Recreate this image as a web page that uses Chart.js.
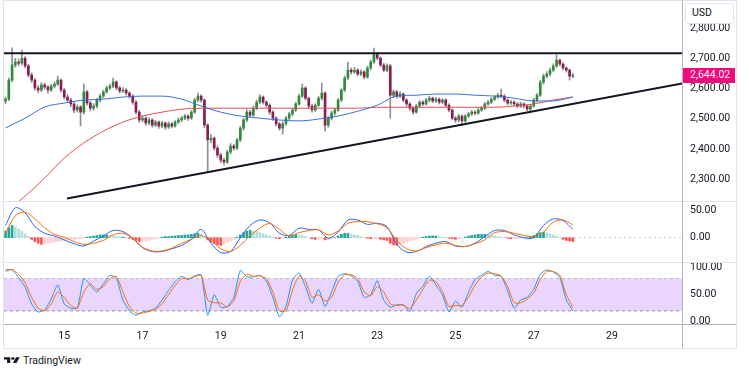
<!DOCTYPE html>
<html>
<head>
<meta charset="utf-8">
<title>Price chart with MACD and Stochastic</title>
<script src="https://cdn.jsdelivr.net/npm/chart.js@4.4.1/dist/chart.umd.min.js"></script>
<style>
  body { margin: 0; background: #fff; }
  #chart { position: relative; width: 749px; height: 375px; overflow: hidden; background: #fff;
           font-family: Roboto, "Liberation Sans", sans-serif; color: #131722; }
  #chart canvas { position: absolute; left: 0; }
  .rule { position: absolute; }
  .light { background: #e0e3eb; }
  .dark { background: #b2b5be; }
  #usd { position: absolute; left: 685px; top: 3px; width: 49px; height: 21px; background: #fff;
         border: 1px solid #e0e3eb; border-radius: 3px; box-sizing: border-box;
         font-size: 10.5px; line-height: 18px; padding-left: 6px; }
  #brand { position: absolute; left: 4px; top: 354px; display: flex; align-items: center; gap: 3px;
           font-size: 10.5px; }
</style>
</head>
<body>
<div id="chart">
  <canvas id="priceCanvas" width="749" height="201" style="top:0"></canvas>
  <canvas id="macdCanvas" width="749" height="61" style="top:201px"></canvas>
  <canvas id="stochCanvas" width="749" height="86" style="top:262px"></canvas>

  <div class="rule light" style="left:3px;top:0;width:734px;height:1px"></div>
  <div class="rule light" style="left:3px;top:0;width:1px;height:349px"></div>
  <div class="rule light" style="left:736px;top:0;width:1px;height:349px"></div>
  <div class="rule light" style="left:3px;top:348px;width:734px;height:1px"></div>
  <div class="rule light" style="left:4px;top:201px;width:732px;height:1px"></div>
  <div class="rule light" style="left:4px;top:262px;width:732px;height:1px"></div>
  <div class="rule dark" style="left:4px;top:324px;width:732px;height:1px"></div>
  <div class="rule dark" style="left:682px;top:0;width:1px;height:348px"></div>

  <div id="usd">USD</div>
  <div id="brand">
    <svg width="16" height="9" viewBox="0 0 36 28" preserveAspectRatio="none">
      <path d="M14 22H7V11H0V4h14v18zM28 22h-8l7.5-18h8L28 22z" fill="#131722"/>
      <circle cx="20" cy="8" r="4" fill="#131722"/>
    </svg>
    <span>TradingView</span>
  </div>
</div>

<script>
// 2-hour candles, first one at day 13.5
const CANDLE_START = 13.5;
const CANDLE_STEP = 2 / 24;

const opens = [2558,2565,2628,2678,2688,2684,2700,2675,2645,2628, 2602,2595,2612,2605,2595,2608,2615,2628,2595,2572,
  2562,2549,2529,2539,2522,2589,2552,2535,2542,2562, 2575,2589,2602,2608,2622,2602,2592,2595,2585,2575,
  2555,2522,2496,2502,2486,2496,2479,2489,2476,2486, 2473,2483,2476,2489,2496,2502,2509,2502,2522,2562,
  2575,2562,2479,2430,2436,2403,2380,2363,2357,2390, 2410,2403,2430,2469,2496,2522,2512,2535,2555,2572,
  2555,2545,2522,2502,2483,2469,2483,2502,2516,2529, 2549,2575,2602,2568,2542,2529,2545,2568,2585,2479,
  2502,2519,2529,2562,2595,2635,2661,2655,2661,2648, 2655,2638,2668,2688,2714,2701,2678,2661,2675,2578,
  2589,2575,2582,2562,2549,2535,2522,2542,2555,2549, 2562,2568,2559,2565,2555,2562,2545,2529,2502,2496,
  2509,2493,2509,2516,2522,2519,2529,2535,2549,2555, 2565,2572,2578,2575,2562,2552,2555,2549,2542,2549,
  2542,2532,2542,2562,2578,2621,2641,2648,2661,2675, 2694,2681,2668,2661,2641];
const highs = [2572,2635,2735,2700,2698,2727,2706,2680,2652,2634, 2610,2620,2618,2611,2614,2622,2641,2632,2600,2580,
  2568,2555,2546,2544,2615,2594,2558,2550,2568,2582, 2595,2608,2615,2635,2626,2608,2603,2600,2590,2580,
  2560,2528,2510,2507,2503,2500,2495,2493,2492,2490, 2490,2488,2494,2503,2508,2515,2514,2528,2568,2585,
  2580,2566,2484,2448,2440,2410,2386,2370,2396,2418, 2416,2436,2475,2502,2530,2528,2542,2562,2580,2576,
  2560,2550,2527,2507,2488,2490,2508,2522,2535,2555, 2582,2615,2606,2572,2548,2550,2574,2618,2590,2508,
  2525,2535,2568,2600,2642,2688,2668,2670,2666,2662, 2660,2674,2694,2734,2720,2705,2684,2682,2680,2596,
  2594,2590,2586,2566,2554,2540,2548,2560,2560,2568, 2575,2572,2571,2569,2567,2566,2550,2533,2508,2515,
  2512,2514,2522,2528,2527,2535,2541,2554,2561,2570, 2578,2584,2598,2580,2566,2561,2560,2553,2555,2553,
  2546,2547,2568,2584,2628,2648,2656,2668,2682,2711, 2698,2686,2672,2665,2650];
const lows = [2550,2560,2622,2670,2675,2678,2668,2638,2620,2595, 2586,2590,2598,2585,2590,2602,2610,2588,2565,2555,
  2540,2520,2522,2476,2515,2545,2526,2528,2536,2556, 2570,2584,2596,2603,2596,2585,2586,2578,2568,2548,
  2515,2488,2490,2478,2480,2472,2474,2468,2470,2465, 2468,2470,2472,2484,2490,2497,2495,2498,2518,2556,
  2555,2470,2324,2420,2396,2372,2355,2347,2352,2384, 2396,2398,2425,2462,2490,2505,2508,2530,2550,2548,
  2538,2515,2495,2476,2462,2449,2478,2497,2510,2524, 2544,2570,2562,2535,2522,2524,2540,2562,2459,2472,
  2496,2512,2524,2556,2590,2630,2648,2650,2642,2643, 2632,2634,2662,2684,2695,2672,2655,2656,2502,2570,
  2568,2570,2556,2542,2528,2515,2518,2538,2543,2545, 2556,2553,2554,2549,2550,2540,2523,2496,2488,2490,
  2476,2488,2504,2511,2513,2514,2524,2530,2544,2550, 2560,2567,2570,2556,2546,2547,2543,2536,2537,2536,
  2526,2519,2538,2556,2574,2615,2635,2642,2655,2670, 2675,2662,2654,2628,2636];
const closes = [2565,2628,2678,2688,2684,2700,2675,2645,2628,2602, 2595,2612,2605,2595,2608,2615,2628,2595,2572,2562,
  2549,2529,2539,2522,2589,2552,2535,2542,2562,2575, 2589,2602,2608,2622,2602,2592,2595,2585,2575,2555,
  2522,2496,2502,2486,2496,2479,2489,2476,2486,2473, 2483,2476,2489,2496,2502,2509,2502,2522,2562,2575,
  2562,2479,2430,2436,2403,2380,2363,2357,2390,2410, 2403,2430,2469,2496,2522,2512,2535,2555,2572,2555,
  2545,2522,2502,2483,2469,2483,2502,2516,2529,2549, 2575,2602,2568,2542,2529,2545,2568,2585,2479,2502,
  2519,2529,2562,2595,2635,2661,2655,2661,2648,2655, 2638,2668,2688,2714,2701,2678,2661,2675,2578,2589,
  2575,2582,2562,2549,2535,2522,2542,2555,2549,2562, 2568,2559,2565,2555,2562,2545,2529,2502,2496,2509,
  2493,2509,2516,2522,2519,2529,2535,2549,2555,2565, 2572,2578,2575,2562,2552,2555,2549,2542,2549,2542,
  2532,2542,2562,2578,2621,2641,2648,2661,2675,2694, 2681,2668,2661,2641,2644.02];

// moving averages, read every 6th candle
const maBlue = [2470,2502,2539,2552,2562,2565,2572,2575,2575,2565, 2542,2522,2509,2502,2496,2493,2499,2509,2525,2545,
  2575,2578,2582,2582,2578,2575,2568,2559,2559,2572];
const maRed = [2190,2244,2304,2370,2420,2459,2489,2509,2522,2532, 2535,2535,2535,2535,2535,2535,2535,2535,2535,2538,
  2538,2538,2538,2538,2538,2538,2542,2549,2562,2572];

// drawn levels
const resistance = 2716.5;
const trendDays = [15.07, 30.79];
const trendPrices = [2236, 2617];

// MACD, lines read every 3rd candle, histogram per candle
const macdLine = [22,54,45,20,8,3,-4,-11,-15,-6, 3,13,11,-1,-18,-25,-25,-20,-14,-3,
  15,-10,-27,-25,0,22,32,27,8,4, 17,15,14,-1,10,32,32,24,26,20,
  -12,-26,-25,-16,-10,-7,-15,-16,-10,2, 13,13,5,0,0,22,34,31,15];
const macdSignal = [8,40,46,34,18,6,1,-7,-12,-10, -5,5,8,-1,-17,-24,-24,-19,-10,-3,
  4,-5,-20,-25,-14,4,17,26,15,3, 9,13,14,5,12,26,29,29,25,18,
  -5,-20,-24,-18,-13,-10,-14,-16,-11,-4, 9,11,8,4,2,10,28,32,23];
const macdHist = [12,18,22,20,16,12,7,2,-3,-7, -10,-12,-11,-10,-9,-8,-7,-6,-5,-4,
  -3,-3,-2,-2,-1,1,2,3,4,5, 5,5,4,3,2,1,1,0,-1,-3,
  -5,-7,-7,-6,-5,-3,-2,-1,1,2, 2,3,3,4,4,5,5,6,7,8,
  6,2,-4,-8,-11,-13,-14,-12,-9,-6, -3,1,5,9,12,13,12,11,9,7,
  5,3,1,-1,-2,-1,1,3,5,6, 5,4,2,0,-2,-3,-3,-2,-4,-3,
  -2,0,3,6,8,8,6,5,4,2, 0,-1,-2,-2,-2,-3,-4,-5,-10,-13,
  -14,-12,-10,-8,-6,-5,-3,-1,1,2, 3,3,3,2,1,0,-1,-2,-3,-2,
  -1,1,3,4,5,6,6,6,5,4, 3,2,1,0,-1,-2,-2,-2,-1,-1,
  0,2,4,7,9,10,9,7,5,3, 0,-3,-5,-6,-7];

// stochastic, read every 2nd candle
const stochK = [96,96,82,64,33,18,22,42,68,33, 25,25,80,68,55,70,86,80,40,20,
  12,18,20,25,40,58,74,84,78,85, 87,12,50,27,28,45,95,83,83,86,
  75,45,9,28,77,90,65,34,60,28, 55,84,89,85,75,45,50,76,40,27,
  31,31,19,52,66,84,68,50,18,38, 27,55,78,86,93,86,84,57,25,40,
  45,60,88,96,92,82,40,20];
const stochD = [93,97,88,72,45,25,20,33,55,45, 30,25,55,70,60,65,80,84,55,28,
  16,16,19,23,33,50,67,80,80,83, 86,40,35,35,27,38,75,88,84,85,
  80,55,20,20,58,85,75,45,50,38, 45,73,87,87,80,55,48,65,55,33,
  30,31,24,40,60,77,74,56,28,30, 30,45,68,83,90,89,85,65,35,35,
  42,53,78,93,93,86,50,26];
const stochBands = [80, 20];

const dayTicks = [15, 17, 19, 21, 23, 25, 27, 29];
const priceTicks = [2300, 2400, 2500, 2600, 2700, 2800];
const macdTicks = [0, 50];
const stochTicks = [0, 50, 100];

const X_MIN = 13.46, X_MAX = 30.79;
const TXT = '#131722';
const FONT_SIZE = 10.5;

Chart.defaults.font.family = 'Roboto, "Liberation Sans", sans-serif';
Chart.defaults.color = TXT;

const candleDays = closes.map((_, i) => CANDLE_START + i * CANDLE_STEP);
const maDays = maBlue.map((_, k) => CANDLE_START + k * 6 * CANDLE_STEP);
const macdDays = macdLine.map((_, k) => CANDLE_START + k * 3 * CANDLE_STEP);
const stochDays = stochK.map((_, k) => CANDLE_START + k * 2 * CANDLE_STEP);

function pts(days, vals) {
  return vals.map((v, i) => ({ x: days[i], y: v }));
}
function fmt2(v) {
  return Number(v).toLocaleString('en-US', { minimumFractionDigits: 2, maximumFractionDigits: 2 });
}
function line(data, color, width, extra) {
  return Object.assign({ type: 'line', data, borderColor: color, borderWidth: width,
    pointRadius: 0, fill: false }, extra || {});
}

function timeAxis(show) {
  return {
    type: 'linear', min: X_MIN, max: X_MAX, offset: false, display: show,
    grid: { display: false, drawTicks: false }, border: { display: false },
    afterBuildTicks: s => { s.ticks = dayTicks.map(v => ({ value: v })); },
    afterFit: s => {
      s.height = show ? 24 : 0;
      s.paddingLeft = 0; s.paddingRight = 0;
    },
    ticks: { autoSkip: false, maxRotation: 0, padding: 6, color: TXT,
      font: { size: FONT_SIZE }, callback: v => String(v) }
  };
}
function valueAxis(min, max, tickList) {
  return {
    type: 'linear', position: 'right', min, max,
    grid: { display: false, drawTicks: false }, border: { display: false },
    afterBuildTicks: s => { s.ticks = tickList.map(v => ({ value: v })); },
    afterFit: s => { s.width = 67; s.paddingTop = 0; s.paddingBottom = 0; },
    ticks: { padding: 8, color: TXT, font: { size: FONT_SIZE }, callback: v => fmt2(v) }
  };
}
function baseOptions(scales) {
  return {
    responsive: false, animation: false, devicePixelRatio: 1, events: [],
    layout: { padding: { left: 4, right: 0, top: 0, bottom: 0 } },
    plugins: { legend: { display: false }, tooltip: { enabled: false } },
    scales
  };
}

// pink tag with the last price on the price axis
const lastPriceTag = {
  id: 'lastPriceTag',
  afterDraw(chart) {
    const last = closes[closes.length - 1];
    const y = chart.scales.y.getPixelForValue(last);
    const x = chart.chartArea.right;
    const ctx = chart.ctx;
    ctx.save();
    ctx.fillStyle = '#f5087e';
    ctx.fillRect(x, Math.round(y) - 7, 53, 15);
    ctx.fillStyle = '#fff';
    ctx.font = FONT_SIZE + 'px Roboto, "Liberation Sans", sans-serif';
    ctx.textBaseline = 'middle';
    ctx.fillText(fmt2(last), x + 8, Math.round(y) + 0.5);
    ctx.restore();
  }
};

const upColor = '#2f8a3a', downColor = '#8c1b4f', wickColor = '#8f9097';
const bodyColors = closes.map((c, i) => c >= opens[i] ? upColor : downColor);

new Chart(document.getElementById('priceCanvas'), {
  type: 'bar',
  data: {
    datasets: [
      line([{ x: X_MIN, y: resistance }, { x: X_MAX, y: resistance }], '#131722', 2, { order: 1 }),
      line(pts(trendDays, trendPrices), '#131722', 2, { order: 1 }),
      line(pts(maDays, maBlue), '#3d6fd6', 1, { order: 2, cubicInterpolationMode: 'monotone' }),
      line(pts(maDays, maRed), '#e0504c', 1, { order: 2, cubicInterpolationMode: 'monotone' }),
      { type: 'bar', order: 3, grouped: false, barThickness: 2,
        data: candleDays.map((d, i) => ({ x: d, y: [opens[i], closes[i]] })),
        backgroundColor: bodyColors },
      { type: 'bar', order: 4, grouped: false, barThickness: 1,
        data: candleDays.map((d, i) => ({ x: d, y: [lows[i], highs[i]] })),
        backgroundColor: wickColor }
    ]
  },
  options: baseOptions({ x: timeAxis(false), y: valueAxis(2228, 2893, priceTicks) }),
  plugins: [lastPriceTag]
});

const histColors = macdHist.map((v, i) => {
  const prev = i ? macdHist[i - 1] : 0;
  if (v >= 0) return v >= prev ? '#26a69a' : '#b2dfdb';
  return v < prev ? '#ff5252' : '#ffcdd2';
});

new Chart(document.getElementById('macdCanvas'), {
  type: 'bar',
  data: {
    datasets: [
      line(pts(macdDays, macdSignal), '#ff6d00', 1, { order: 1, tension: 0.3 }),
      line(pts(macdDays, macdLine), '#2962ff', 1, { order: 2, tension: 0.3 }),
      { type: 'bar', order: 3, grouped: false, barThickness: 2,
        data: pts(candleDays, macdHist), backgroundColor: histColors },
      line([{ x: X_MIN, y: 0 }, { x: X_MAX, y: 0 }], '#c9ccd4', 1, { order: 4, borderDash: [2, 3] })
    ]
  },
  options: baseOptions({ x: timeAxis(false), y: valueAxis(-43.9, 66.2, macdTicks) })
});

new Chart(document.getElementById('stochCanvas'), {
  type: 'line',
  data: {
    datasets: [
      line([{ x: X_MIN, y: stochBands[0] }, { x: X_MAX, y: stochBands[0] }], '#9598a1', 1,
        { order: 6, borderDash: [3, 3] }),
      line([{ x: X_MIN, y: stochBands[1] }, { x: X_MAX, y: stochBands[1] }], '#9598a1', 1,
        { order: 5, borderDash: [3, 3], fill: '-1', backgroundColor: '#e9d5fd' }),
      line(pts(stochDays, stochD), '#ff6d00', 1, { order: 1, tension: 0.2 }),
      line(pts(stochDays, stochK), '#2196f3', 1, { order: 2, tension: 0.2 })
    ]
  },
  options: baseOptions({ x: timeAxis(true), y: valueAxis(-4.3, 110.6, stochTicks) })
});
</script>
</body>
</html>
